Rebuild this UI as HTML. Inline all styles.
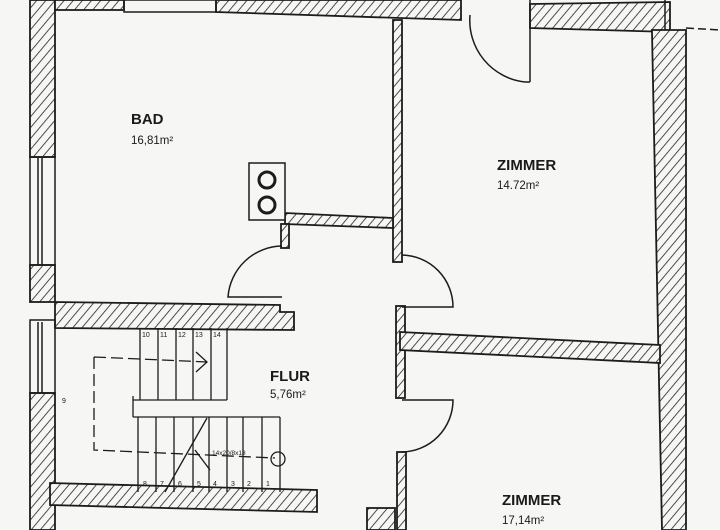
<!DOCTYPE html>
<html><head><meta charset="utf-8"><style>
html,body{margin:0;padding:0;background:#f6f6f4}
svg{display:block}
text{font-family:"Liberation Sans",sans-serif;fill:#1a1a1a}
</style></head><body>
<svg width="720" height="530" viewBox="0 0 720 530" xmlns="http://www.w3.org/2000/svg">
<defs>
<pattern id="h" patternUnits="userSpaceOnUse" width="7" height="7" patternTransform="rotate(40)">
<rect width="7" height="7" fill="#f6f6f4"/><line x1="0" y1="0" x2="0" y2="7" stroke="#222" stroke-width="1.6"/>
</pattern>
</defs>
<rect width="720" height="530" fill="#f6f6f4"/>
<g stroke="#1c1c1c" stroke-width="1.8" fill="url(#h)">
<!-- left outer wall -->
<rect x="30" y="0" width="25" height="157"/>
<rect x="30" y="265" width="25" height="37"/>
<rect x="30" y="393" width="25" height="137"/>
<!-- top walls -->
<rect x="55" y="0" width="69" height="10"/>
<polygon points="216,0 461,0 461,20 216,12"/>
<polygon points="530,4 670,2 670,32 530,28"/>
<!-- right outer wall -->
<polygon points="652,30 670,30 686,30 686,530 662,530 652,32"/>
<!-- interior BAD/ZIMMER -->
<rect x="393" y="20" width="9" height="242"/>
<polygon points="285,213 393,218 393,228 285,224"/>
<rect x="281" y="224" width="8" height="24"/>
<!-- BAD/stair wall -->
<polygon points="55,302 280,305 280,312 294,312 294,330 55,328"/>
<!-- right side walls -->
<rect x="396" y="306" width="9" height="92"/>
<polygon points="400,332 660,345 660,363 400,350"/>
<rect x="397" y="452" width="9" height="78"/>
<!-- bottom wall -->
<polygon points="50,483 317,490 317,512 50,505"/>
<rect x="367" y="508" width="28" height="22"/>
</g>
<g stroke="#1c1c1c" stroke-width="1.5" fill="none">
<!-- windows -->
<rect x="30" y="157" width="25" height="108"/><line x1="38" y1="157" x2="38" y2="265"/><line x1="42" y1="157" x2="42" y2="265"/>
<rect x="30" y="320" width="25" height="73"/><line x1="38" y1="322" x2="38" y2="393"/><line x1="42" y1="322" x2="42" y2="393"/>
<rect x="124" y="0" width="92" height="12"/>
<line x1="665" y1="0" x2="665" y2="30"/>
<!-- top door -->
<line x1="530" y1="0" x2="530" y2="82"/>
<path d="M470,15 A62,62 0 0 0 525,82 L530,82"/>
<!-- chimney -->
<rect x="249" y="163" width="36" height="57" fill="#f6f6f4"/>
<circle cx="267" cy="180" r="8" stroke-width="3"/>
<circle cx="267" cy="205" r="8" stroke-width="3"/>
<!-- BAD door -->
<path d="M282,297 L228,297 A55,55 0 0 1 282,246"/>
<!-- flur doors -->
<path d="M402,307 L453,307 A52,52 0 0 0 402,255"/>
<path d="M402,400 L453,400 A52,52 0 0 1 402,452"/>
<!-- stairs upper -->
<g stroke-width="1.3">
<line x1="140" y1="328" x2="140" y2="400"/><line x1="158" y1="328" x2="158" y2="400"/><line x1="176" y1="328" x2="176" y2="400"/><line x1="193" y1="328" x2="193" y2="400"/><line x1="211" y1="328" x2="211" y2="400"/><line x1="227" y1="328" x2="227" y2="400"/>
<line x1="133" y1="400" x2="227" y2="400"/><line x1="133" y1="396" x2="133" y2="417"/><line x1="133" y1="417" x2="280" y2="417"/>
<line x1="138" y1="417" x2="138" y2="492"/><line x1="156" y1="417" x2="156" y2="492"/><line x1="174" y1="417" x2="174" y2="492"/><line x1="193" y1="417" x2="193" y2="492"/><line x1="209" y1="417" x2="209" y2="492"/><line x1="227" y1="417" x2="227" y2="492"/><line x1="243" y1="417" x2="243" y2="492"/><line x1="262" y1="417" x2="262" y2="492"/><line x1="280" y1="417" x2="280" y2="492"/>
<path d="M94,357 L207,362 M94,357 L94,450 L275,458" stroke-dasharray="12,5"/>
<path d="M196,352 L207,362 L196,372"/>
<line x1="207" y1="418" x2="165" y2="492"/>
<line x1="195" y1="450" x2="210" y2="470"/>
<circle cx="278" cy="459" r="7"/>
</g>
<line x1="686" y1="28" x2="720" y2="30" stroke-dasharray="8,4"/>
</g>
<g font-size="7">
<text x="142" y="337">10</text><text x="160" y="337">11</text><text x="178" y="337">12</text><text x="195" y="337">13</text><text x="213" y="337">14</text>
<text x="212" y="455" font-size="6.5">14x20/8x18</text>
<text x="62" y="403">9</text>
<text x="143" y="486">8</text><text x="160" y="486">7</text><text x="178" y="486">6</text><text x="197" y="486">5</text><text x="213" y="486">4</text><text x="231" y="486">3</text><text x="247" y="486">2</text><text x="266" y="486">1</text>
</g>
<text x="131" y="124" font-size="15" font-weight="bold">BAD</text>
<text x="131" y="144" font-size="11.5">16,81m²</text>
<text x="497" y="170" font-size="15" font-weight="bold">ZIMMER</text>
<text x="497" y="189" font-size="11.5">14.72m²</text>
<text x="270" y="381" font-size="15" font-weight="bold">FLUR</text>
<text x="270" y="398" font-size="11.5">5,76m²</text>
<text x="502" y="505" font-size="15" font-weight="bold">ZIMMER</text>
<text x="502" y="524" font-size="11.5">17,14m²</text>
</svg>
</body></html>
